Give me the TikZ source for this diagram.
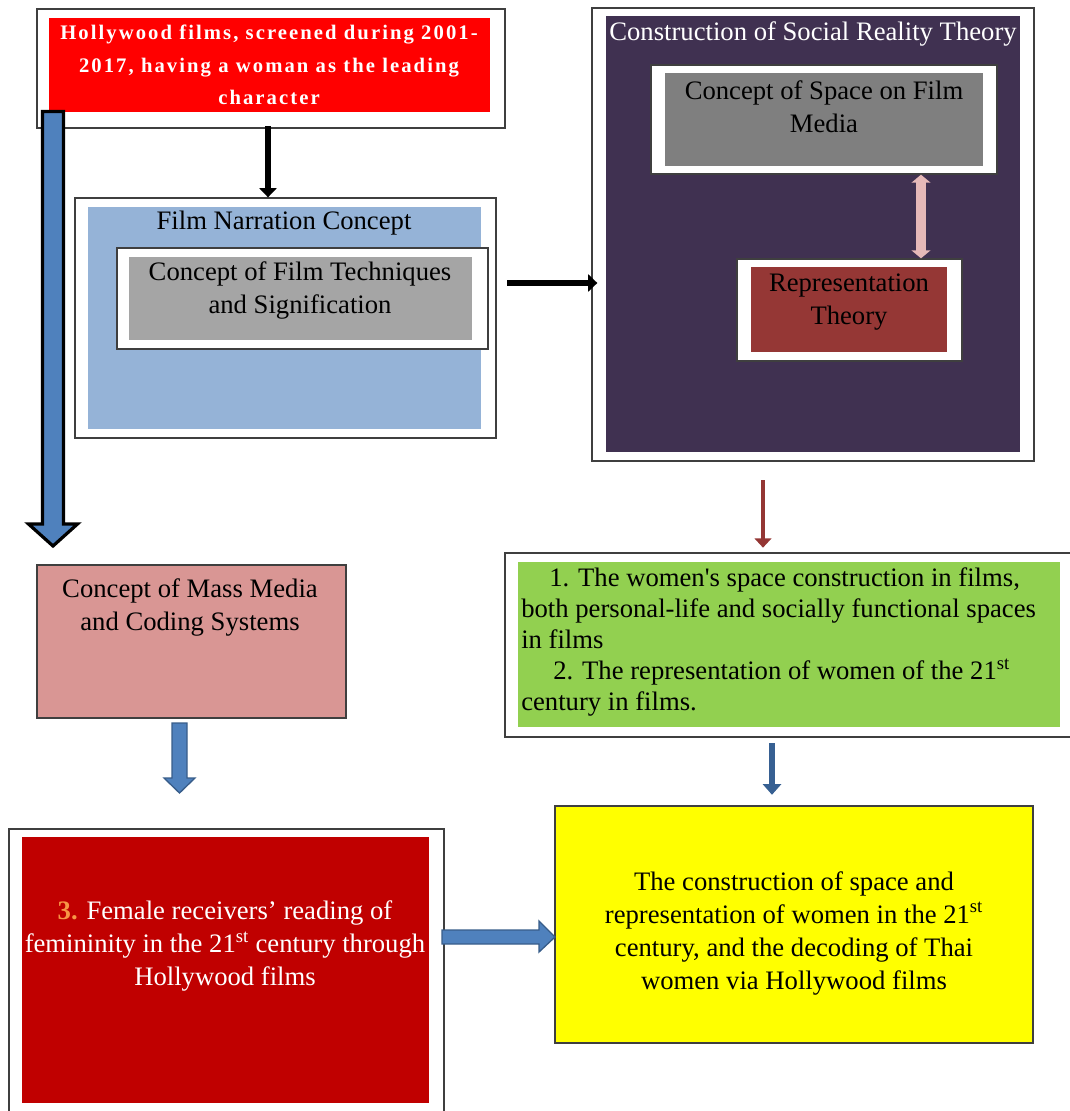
\documentclass[tikz,border=0pt]{standalone}
\usepackage{fontspec}
\setmainfont{Liberation Serif}
\usetikzlibrary{arrows.meta,fit}
\definecolor{framegray}{HTML}{3F3F3F}
\definecolor{topred}{HTML}{FF0000}
\definecolor{lightblue}{HTML}{95B3D7}
\definecolor{grayA}{HTML}{A5A5A5}
\definecolor{grayB}{HTML}{7F7F7F}
\definecolor{purpleP}{HTML}{403151}
\definecolor{darkredR}{HTML}{953735}
\definecolor{pinkarr}{HTML}{E6B9B8}
\definecolor{pinkbox}{HTML}{D99694}
\definecolor{redB}{HTML}{C00000}
\definecolor{greenG}{HTML}{92D050}
\definecolor{yellowY}{HTML}{FFFF00}
\definecolor{blueA}{HTML}{4F81BD}
\definecolor{blueEdge}{HTML}{385D8A}
\definecolor{blueDark}{HTML}{376092}
\definecolor{redArr}{HTML}{943634}
\definecolor{orangeN}{HTML}{F79646}
\begin{document}
\begin{tikzpicture}[x=0.75pt,y=-0.75pt,
  frame/.style={draw=framegray, line width=1pt, fill=white, inner sep=0pt},
  panel/.style={draw=none, inner sep=0pt},
  txt/.style={font=\fontsize{20}{24.75}\selectfont, align=center, inner sep=0pt},
  toptxt/.style={font=\fontsize{15.5}{24.4}\selectfont\bfseries\addfontfeatures{LetterSpace=10}, text=white, align=center, inner sep=0pt},
  blackarrow/.style={draw=black, line width=4.5pt, -{Triangle[width=13pt,length=7pt]}},
  redarrow/.style={draw=redArr, line width=3.6pt, -{Triangle[width=12.5pt,length=7pt]}},
  bluearrow/.style={draw=blueDark, line width=5pt, -{Triangle[width=13.5pt,length=8pt]}},
  pinkarrow/.style={draw=pinkarr, line width=7pt, {Triangle[width=14pt,length=6pt]}-{Triangle[width=14pt,length=6pt]}},
  blockarrow/.style={draw=blueEdge, line width=1pt, fill=blueA, line join=miter}
]
\useasboundingbox (0,0) rectangle (1070,1111);
\clip (0,0) rectangle (1070,1111);

% top box
\node[frame, fit={(37,9)(505,128)}] (topF) {};
\node[panel, fill=topred, fit={(49,18)(490,112)}] (topR) {};
\node[toptxt] (topT) at (269,65) {Hollywood films, screened during 2001-\\2017, having a woman as the leading\\character};

% film narration
\node[frame, fit={(75,198)(496,438)}] (filmF) {};
\node[panel, fill=lightblue, fit={(88,207)(481,429)}] (filmP) {};
\node[txt] (filmT) at (284,223) {Film Narration Concept};
\node[frame, fit={(117,248)(488,349)}] (techF) {};
\node[panel, fill=grayA, fit={(129,257)(472,340)}] (techP) {};
\node[txt] (techT) at (300,290) {Concept of Film Techniques\\and Signification};

% social reality
\node[frame, fit={(592,8)(1034,461)}] (socF) {};
\node[panel, fill=purpleP, fit={(606,16)(1020,452)}] (socP) {};
\node[txt, text=white] (socT) at (813,34) {Construction of Social Reality Theory};
\node[frame, fit={(651,65)(997,174)}] (spaceF) {};
\node[panel, fill=grayB, fit={(665,73)(983,166)}] (spaceP) {};
\node[txt] (spaceT) at (824,107) {Concept of Space on Film\\Media};
\node[frame, fit={(737,259)(962,361)}] (reprF) {};
\node[panel, fill=darkredR, fit={(751,267)(947,352)}] (reprP) {};
\node[txt] (reprT) at (849,302) {Representation\\Theory};

% green box
\node[frame, fit={(505,553)(1080,737)}] (greenF) {};
\node[panel, fill=greenG, fit={(518,562)(1060,727)}] (greenP) {};
\node[font=\fontsize{20}{23.25}\selectfont, align=left, inner sep=0pt, anchor=north west] (greenT) at (521,567)
  {\hspace*{21pt}1. The women\textquotesingle s space construction in films,\\
   both personal-life and socially functional spaces\\
   in films\\
   \hspace*{24pt}2. The representation of women of the 21\textsuperscript{st}\\
   century in films.};

% yellow box
\node[draw=framegray, line width=0.8pt, fill=yellowY, inner sep=0pt, fit={(555,806)(1033,1043)}] (yellowB) {};
\node[txt] (yellowT) at (794,933) {The construction of space and\\representation of women in the 21\textsuperscript{st}\\century, and the decoding of Thai\\women via Hollywood films};

% mass media
\node[draw=framegray, line width=1pt, fill=pinkbox, inner sep=0pt, fit={(37,565)(346,718)}] (massB) {};
\node[txt] (massT) at (190,607) {Concept of Mass Media\\and Coding Systems};

% receivers box
\node[frame, fit={(9,829)(444,1125)}] (recvF) {};
\node[panel, fill=redB, fit={(22,837)(429,1103)}] (recvP) {};
\node[txt, text=white] (recvT) at (225,946) {{\bfseries\color{orangeN}3.} Female receivers’ reading of\\femininity in the 21\textsuperscript{st} century through\\Hollywood films};

% connectors
\coordinate (xa) at (268,0);
\draw[blackarrow, shorten <=-2pt] (topF.south -| xa) -- (filmF.north -| xa);
\coordinate (ya) at (0,283);
\draw[blackarrow, shorten <=8pt, shorten >=-4.5pt] (filmF.east |- ya) -- (socF.west |- ya);
\coordinate (xp) at (921,0);
\draw[pinkarrow] (spaceF.south -| xp) -- (reprF.north -| xp);
\coordinate (xr) at (763,0);
\draw[redarrow, shorten <=14pt, shorten >=3.5pt] (socF.south -| xr) -- (greenF.north -| xr);
\coordinate (xb) at (772,0);
\draw[bluearrow, shorten <=4pt, shorten >=8pt] (greenF.south -| xb) -- (yellowB.north -| xb);

% block arrows
\draw[blockarrow] (172,723) -- (187,723) -- (187,778) -- (195,778) -- (179.5,793) -- (164,778) -- (172,778) -- cycle;
\draw[blockarrow] (442,930) -- (539,930) -- (539,921) -- (555,937) -- (539,952) -- (539,944) -- (442,944) -- cycle;
\draw[draw=black, line width=2.4pt, fill=blueA, line join=miter] (42.5,111.5) -- (63.5,111.5) -- (63.5,524) -- (77.5,524) -- (53,546) -- (28.5,524) -- (42.5,524) -- cycle;
\end{tikzpicture}
\end{document}
